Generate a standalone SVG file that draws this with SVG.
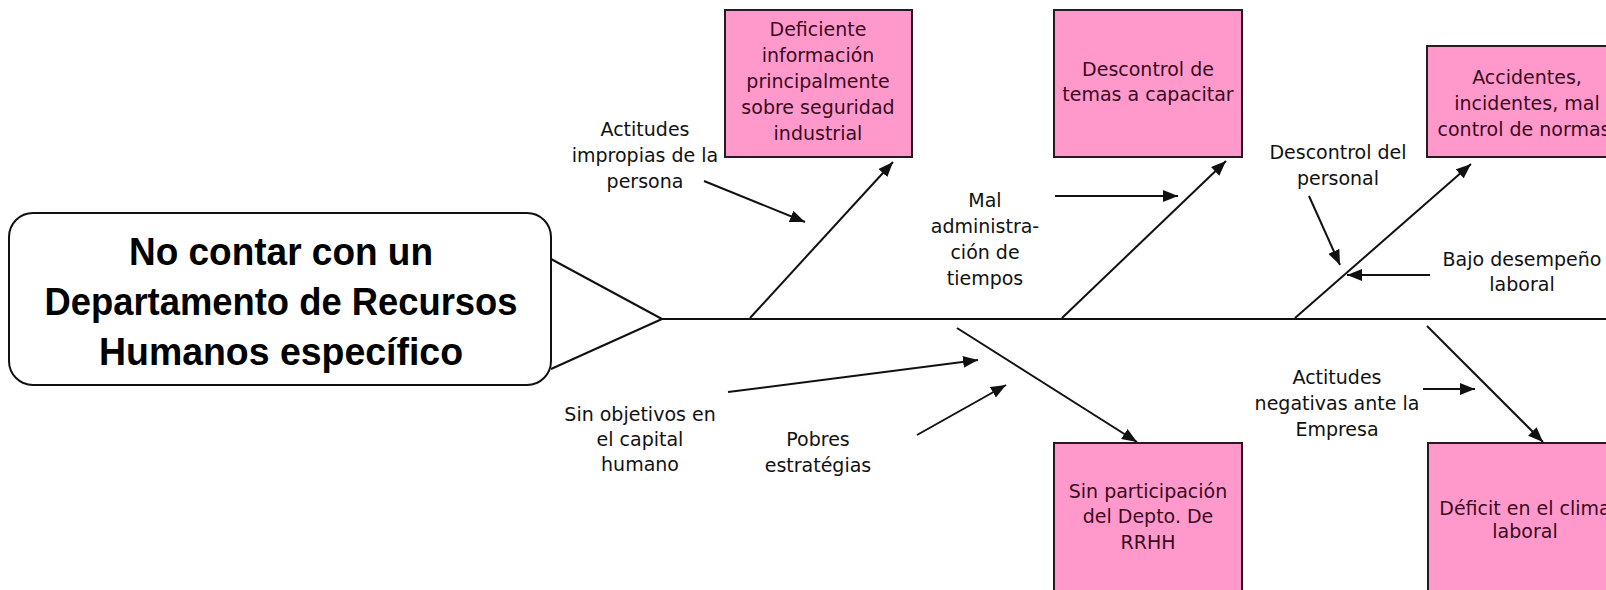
<svg xmlns="http://www.w3.org/2000/svg" width="1606" height="590" viewBox="0 0 1606 590">
  <style>
    .box { fill: #ff99cc; stroke: #2a1a1f; stroke-width: 2; }
    .bt { font-family: "DejaVu Sans", Verdana, sans-serif; font-size: 19px; fill: #3a0a1e; text-anchor: middle; }
    .lt { font-family: "DejaVu Sans", Verdana, sans-serif; font-size: 19px; fill: #111; text-anchor: middle; }
    .title { font-family: "Liberation Sans", Arial, sans-serif; font-size: 38px; font-weight: bold; fill: #000; text-anchor: middle; }
    .ln { stroke: #111; stroke-width: 2; fill: none; }
    .arr { stroke: #111; stroke-width: 2; fill: none; marker-end: url(#ah); }
  </style>
  <defs>
    <marker id="ah" markerUnits="userSpaceOnUse" markerWidth="16" markerHeight="12" refX="15" refY="6" orient="auto">
      <path d="M0,0 L15,6 L0,12 z" fill="#111"/>
    </marker>
  </defs>
  <rect x="0" y="0" width="1606" height="590" fill="#ffffff"/>

  <g id="connectors">
    <line class="ln" x1="551" y1="259" x2="662" y2="319"/>
    <line class="ln" x1="551" y1="369" x2="662" y2="319"/>
    <line class="ln" x1="662" y1="319" x2="1606" y2="319" stroke-width="2.5"/>
    <line class="arr" x1="750" y1="318" x2="893" y2="162"/>
    <line class="arr" x1="1062" y1="318" x2="1226" y2="161"/>
    <line class="arr" x1="1295" y1="318" x2="1471" y2="164"/>
    <line class="arr" x1="957" y1="328" x2="1137" y2="442"/>
    <line class="arr" x1="1427" y1="326" x2="1543" y2="442"/>
    <line class="arr" x1="704" y1="181" x2="805" y2="222"/>
    <line class="arr" x1="1055" y1="196" x2="1178" y2="196"/>
    <line class="arr" x1="1309" y1="196" x2="1340" y2="265"/>
    <line class="arr" x1="1430" y1="275" x2="1347" y2="275"/>
    <line class="arr" x1="728" y1="392" x2="978" y2="360"/>
    <line class="arr" x1="917" y1="435" x2="1006" y2="385"/>
    <line class="arr" x1="1423" y1="389" x2="1475" y2="389"/>
  </g>

  <g id="effect">
    <rect x="9" y="213" width="542" height="172" rx="24" ry="24" fill="#ffffff" stroke="#111" stroke-width="2"/>
    <text class="title" x="281" y="265" textLength="304" lengthAdjust="spacingAndGlyphs">No contar con un</text>
    <text class="title" x="281" y="315" textLength="473" lengthAdjust="spacingAndGlyphs">Departamento de Recursos</text>
    <text class="title" x="281" y="365" textLength="364" lengthAdjust="spacingAndGlyphs">Humanos específico</text>
  </g>

  <g id="cause-info">
    <rect class="box" x="725" y="10" width="187" height="147"/>
    <text class="bt" x="818" y="36">Deficiente</text>
    <text class="bt" x="818" y="62">información</text>
    <text class="bt" x="818" y="88">principalmente</text>
    <text class="bt" x="818" y="114">sobre seguridad</text>
    <text class="bt" x="818" y="140">industrial</text>
  </g>

  <g id="cause-temas">
    <rect class="box" x="1054" y="10" width="188" height="147"/>
    <text class="bt" x="1148" y="76">Descontrol de</text>
    <text class="bt" x="1148" y="101">temas a capacitar</text>
  </g>

  <g id="cause-accidentes">
    <rect class="box" x="1427" y="46" width="210" height="111"/>
    <text class="bt" x="1527" y="84">Accidentes,</text>
    <text class="bt" x="1527" y="110">incidentes, mal</text>
    <text class="bt" x="1524" y="136">control de normas</text>
  </g>

  <g id="cause-rrhh">
    <rect class="box" x="1054" y="443" width="188" height="170"/>
    <text class="bt" x="1148" y="498">Sin participación</text>
    <text class="bt" x="1148" y="523">del Depto. De</text>
    <text class="bt" x="1148" y="549">RRHH</text>
  </g>

  <g id="cause-clima">
    <rect class="box" x="1428" y="443" width="210" height="170"/>
    <text class="bt" x="1525" y="515">Déficit en el clima</text>
    <text class="bt" x="1525" y="538">laboral</text>
  </g>

  <g id="label-actitudes-impropias">
    <text class="lt" x="645" y="136">Actitudes</text>
    <text class="lt" x="645" y="162">impropias de la</text>
    <text class="lt" x="645" y="188">persona</text>
  </g>

  <g id="label-mal-administracion">
    <text class="lt" x="985" y="207">Mal</text>
    <text class="lt" x="985" y="233">administra-</text>
    <text class="lt" x="985" y="259">ción de</text>
    <text class="lt" x="985" y="285">tiempos</text>
  </g>

  <g id="label-descontrol-personal">
    <text class="lt" x="1338" y="159">Descontrol del</text>
    <text class="lt" x="1338" y="185">personal</text>
  </g>

  <g id="label-bajo-desempeno">
    <text class="lt" x="1522" y="266">Bajo desempeño</text>
    <text class="lt" x="1522" y="291">laboral</text>
  </g>

  <g id="label-sin-objetivos">
    <text class="lt" x="640" y="421">Sin objetivos en</text>
    <text class="lt" x="640" y="446">el capital</text>
    <text class="lt" x="640" y="471">humano</text>
  </g>

  <g id="label-pobres">
    <text class="lt" x="818" y="446">Pobres</text>
    <text class="lt" x="818" y="472">estratégias</text>
  </g>

  <g id="label-actitudes-negativas">
    <text class="lt" x="1337" y="384">Actitudes</text>
    <text class="lt" x="1337" y="410">negativas ante la</text>
    <text class="lt" x="1337" y="436">Empresa</text>
  </g>
</svg>
